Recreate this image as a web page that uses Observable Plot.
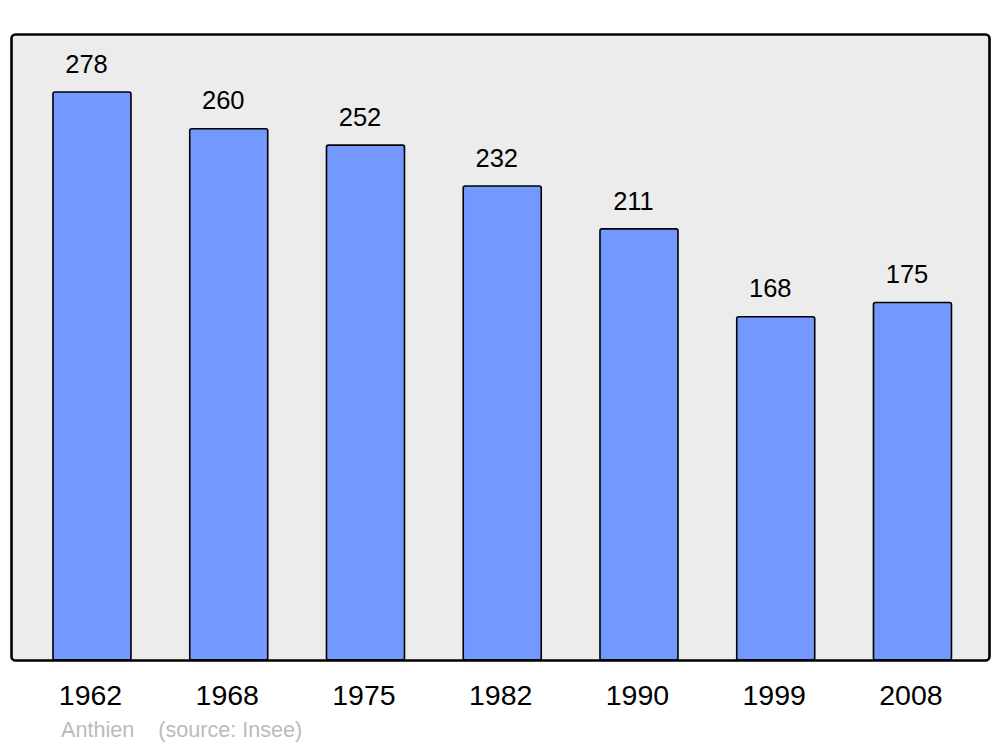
<!DOCTYPE html>
<html>
<head>
<meta charset="utf-8">
<script src="https://cdn.jsdelivr.net/npm/d3@7"></script>
<script src="https://cdn.jsdelivr.net/npm/@observablehq/plot@0.6"></script>
<style>
  body { margin: 0; background: #fff; font-family: "Liberation Sans", Arial, sans-serif; }
  #caption { margin-left: 61px; font-size: 21.6px; line-height: 25px; color: #bbbbbb; white-space: pre; }
</style>
</head>
<body>
<div id="chart"></div>
<div id="caption"></div>
<script>
const years = ["1962", "1968", "1975", "1982", "1990", "1999", "2008"];
const population = [278, 260, 252, 232, 211, 168, 175];
const commune = "Anthien";
const source = "(source: Insee)";

const data = years.map((y, i) => ({year: y, pop: population[i]}));

const chart = Plot.plot({
  width: 1000,
  height: 717,
  marginTop: 34,
  marginBottom: 57,
  marginLeft: 11,
  marginRight: 11,
  style: {fontFamily: "'Liberation Sans', Arial, sans-serif", background: "#fff"},
  x: {domain: years, paddingInner: 0.4296, paddingOuter: 0.2907, align: 0.528, round: false, label: null},
  y: {domain: [0, 306.4], axis: null},
  marks: [
    Plot.frame({fill: "#ececec", stroke: "none", rx: 4}),
    Plot.barY(data, {x: "year", y: "pop", fill: "#7399ff", stroke: "black", strokeWidth: 1.6, rx: 2}),
    Plot.text(data, {x: "year", y: "pop", text: d => String(d.pop), dy: -28, dx: -6, fontSize: 25.5, fill: "black"}),
    Plot.frame({stroke: "black", strokeWidth: 2.6, rx: 4}),
    Plot.axisX({tickSize: 0, tickPadding: 24, fontSize: 28.5, dx: -2, color: "black"})
  ]
});
document.getElementById("chart").appendChild(chart);
document.getElementById("caption").textContent = commune + "    " + source;
</script>
</body>
</html>
